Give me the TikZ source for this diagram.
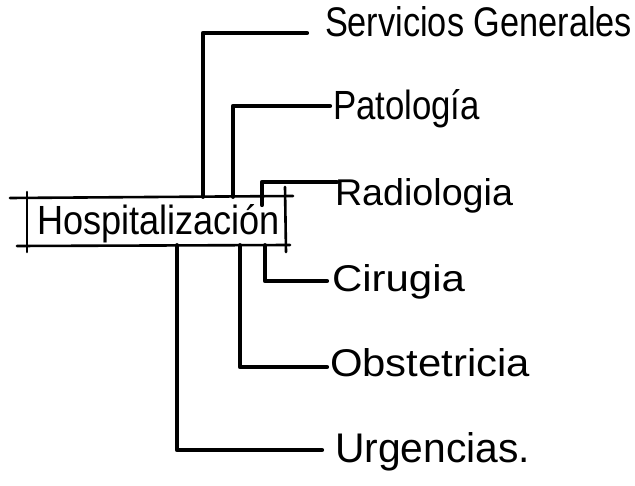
\documentclass[tikz,border=0pt]{standalone}
\usepackage{fontspec}
\setmainfont{Liberation Sans}
\usepackage{graphicx}
\newcommand{\fitlbl}[3]{\resizebox{#1pt}{#2pt}{\fontsize{30}{30}\selectfont #3}}
\tikzset{
  lbl/.style={anchor=base west, inner sep=0pt, outer sep=0pt},
  conn/.style={line width=4.2pt, line cap=round, line join=round},
  boxline/.style={line width=2.6pt, line cap=round}
}
\begin{document}
\begin{tikzpicture}[x=1pt,y=-1pt]
\useasboundingbox[fill=white] (0,0) rectangle (635,486);
% central box
\node[inner sep=0pt, minimum width=258pt, minimum height=48pt] (hosp) at (156,221) {};
\node[lbl] (hospt) at (37,235) {\fitlbl{243}{30}{Hospitalización}};
\draw[boxline] (10,198) -- (293,196);
\draw[boxline] (17,246) -- (290,245);
\draw[boxline] (27,192) -- (27,252);
\draw[boxline] (285,187) -- (286,252);
% labels
\node[lbl] (serv) at (325,37) {\fitlbl{307}{30}{Servicios Generales}};
\node[lbl] (pat)  at (333,120) {\fitlbl{147}{30}{Patología}};
\node[lbl] (rad)  at (335,206) {\fitlbl{178}{27}{Radiologia}};
\node[lbl] (cir)  at (332,292) {\fitlbl{133}{27}{Cirugia}};
\node[lbl] (obs)  at (330,377) {\fitlbl{200}{28}{Obstetricia}};
\node[lbl] (urg)  at (335,462) {\fitlbl{195}{30}{Urgencias.}};
% connector end points
\coordinate (e1) at (307,33);
\coordinate (e2) at (330,106);
\coordinate (e3) at (337,182);
\coordinate (e4) at (327,281);
\coordinate (e5) at (327,367);
\coordinate (e6) at (322,450);
% connectors
\draw[conn] (hosp.north -| 203,0) |- (e1);
\draw[conn] (hosp.north -| 233,0) |- (e2);
\draw[conn] (262,205) |- (e3);
\draw[conn] (hosp.south -| 265,0) |- (e4);
\draw[conn] (hosp.south -| 240,0) |- (e5);
\draw[conn] (hosp.south -| 177,0) |- (e6);
\end{tikzpicture}
\end{document}
